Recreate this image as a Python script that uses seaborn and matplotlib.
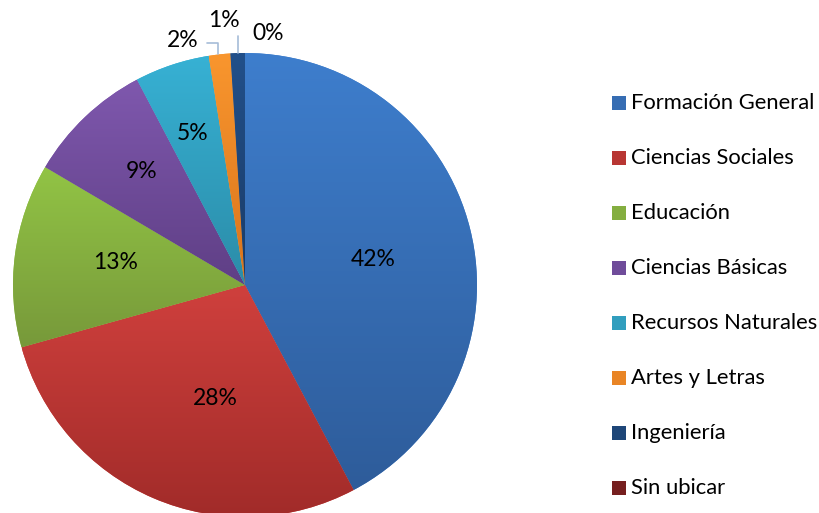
import numpy as np
import matplotlib
matplotlib.use("Agg")
import matplotlib.pyplot as plt
import matplotlib.colors as mcolors
from matplotlib.patches import Rectangle
import seaborn as sns

sns.set_theme(style="white")
plt.rcParams['font.family'] = ['Lato', 'DejaVu Sans']

categories = ["Formación General", "Ciencias Sociales", "Educación", "Ciencias Básicas",
              "Recursos Naturales", "Artes y Letras", "Ingeniería", "Sin ubicar"]
values = [42.2, 28.4, 12.8, 8.8, 5.2, 1.5, 1.0, 0.0]
pct_labels = ["42%", "28%", "13%", "9%", "5%", "2%", "1%", "0%"]
top_colors = ["#3E7ECD", "#CF403D", "#92C445", "#7F58AE", "#37B1D4", "#F9962E", "#22508A", "#862424"]
bot_colors = ["#2E5C9A", "#A12B29", "#77993A", "#5F3F85", "#2B8CA8", "#D9741C", "#1A3B66", "#661A1A"]

# label placement (axes data units, pie radius = 1)
label_pos = [(0.552, 0.112), (-0.129, -0.491), (-0.560, 0.099), (-0.444, 0.491),
             (-0.228, 0.655), (-0.267, 1.056), (-0.091, 1.142), (0.099, 1.086)]

fig = plt.figure(figsize=(8.2, 5.13), dpi=100)
R = 232
cx, cy = 245, 513 - 285
ax = fig.add_axes([(cx - R) / 820, (cy - R) / 513, 2 * R / 820, 2 * R / 513])

wedges, _ = ax.pie(values, startangle=90, counterclock=False, radius=1,
                   colors=top_colors, wedgeprops=dict(linewidth=0))
ax.set_xlim(-1, 1)
ax.set_ylim(-1, 1)
ax.set_aspect('equal')
ax.axis('off')

# vertical gradient fill per wedge (lighter top, darker bottom)
for w, ct, cb in zip(wedges, top_colors, bot_colors):
    path = w.get_path()
    verts = w.get_transform().transform(path.vertices)
    verts = ax.transData.inverted().transform(verts)
    x0, x1 = verts[:, 0].min(), verts[:, 0].max()
    y0, y1 = verts[:, 1].min(), verts[:, 1].max()
    if x1 - x0 < 1e-4 or y1 - y0 < 1e-4:
        continue
    t = np.linspace(0, 1, 256)[:, None]
    c_t = np.array(mcolors.to_rgb(ct))
    c_b = np.array(mcolors.to_rgb(cb))
    img = (c_t[None, None, :] * (1 - t[:, :, None]) + c_b[None, None, :] * t[:, :, None])
    img = np.repeat(img, 2, axis=1)
    im = ax.imshow(img, extent=[x0, x1, y0, y1], origin='upper', aspect='auto', zorder=2)
    im.set_clip_path(w)
ax.set_xlim(-1, 1)
ax.set_ylim(-1, 1)

FS = 16.5
for (lx, ly), lab in zip(label_pos, pct_labels):
    ax.text(lx, ly, lab, ha='center', va='center', fontsize=FS, color='black',
            zorder=5, clip_on=False)

# leader lines for tiny wedges
lc = "#A6BCD8"
ax.plot([-0.164, -0.116, -0.116], [1.043, 1.043, 0.996], color=lc, lw=1.2, clip_on=False, zorder=4)
ax.plot([-0.030, -0.030], [1.073, 1.0], color=lc, lw=1.2, clip_on=False, zorder=4)

# legend
y_first = 103
step = 55
for i, (cat, ct, cb) in enumerate(zip(categories, top_colors, bot_colors)):
    yp = y_first + i * step
    sq = Rectangle(((612) / 820, (513 - yp - 7) / 513), 14 / 820, 14 / 513,
                   transform=fig.transFigure, facecolor=mcolors.to_hex(
                       (np.array(mcolors.to_rgb(ct)) + np.array(mcolors.to_rgb(cb))) / 2),
                   edgecolor='none')
    fig.patches.append(sq)
    fig.text(631 / 820, (513 - yp) / 513, cat, ha='left', va='center', fontsize=15.8, color='black')

fig.savefig("out.png", dpi=100)
